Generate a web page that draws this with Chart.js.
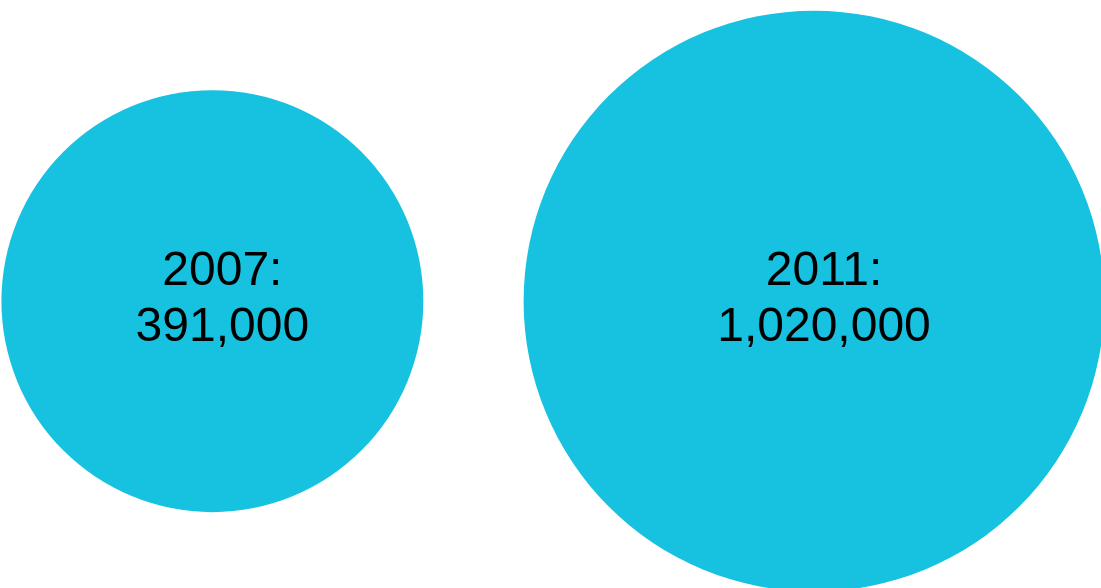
<!DOCTYPE html>
<html>
<head>
<meta charset="utf-8">
<script src="https://cdn.jsdelivr.net/npm/chart.js@4/dist/chart.umd.min.js"></script>
<style>
  html, body { margin: 0; padding: 0; background: #fff; }
  #wrap { width: 1101px; height: 588px; position: relative; }
</style>
</head>
<body>
<div id="wrap"><canvas id="chart"></canvas></div>
<script>
// Años y valores
const years = ['2007', '2011'];
const values = [391000, 1020000];

const BUBBLE_COLOR = '#17c1e0';
// el radio crece con la raíz cúbica del valor
const R_SCALE = 2.885;

function fmt(n) { return n.toLocaleString('en-US'); }

// ============================================================
// Etiquetas dentro de cada burbuja
// ============================================================
const bubbleLabels = {
  id: 'bubbleLabels',
  afterDatasetsDraw(chart) {
    const ctx = chart.ctx;
    const meta = chart.getDatasetMeta(0);
    ctx.save();
    ctx.fillStyle = '#000';
    ctx.font = '48px "Liberation Sans", Arial, sans-serif';
    ctx.textAlign = 'center';
    ctx.textBaseline = 'alphabetic';
    meta.data.forEach((el, i) => {
      const x = el.x + 10;
      ctx.fillText(years[i] + ':', x, el.y - 16);
      ctx.fillText(fmt(values[i]), x, el.y + 40);
    });
    ctx.restore();
  }
};

const data = years.map((y, i) => ({ x: i, y: 0, r: R_SCALE * Math.cbrt(values[i]) }));

new Chart(document.getElementById('chart'), {
  type: 'bubble',
  data: {
    datasets: [{
      data,
      backgroundColor: BUBBLE_COLOR,
      borderWidth: 0,
      hoverBorderWidth: 0,
      clip: false,
    }],
  },
  options: {
    responsive: true,
    maintainAspectRatio: false,
    animation: false,
    events: [],
    layout: { padding: 0, autoPadding: false },
    plugins: { legend: { display: false }, tooltip: { enabled: false } },
    scales: {
      x: { type: 'linear', display: false, min: -0.353, max: 1.477 },
      y: { type: 'linear', display: false, min: -1, max: 1.05 },
    },
  },
  plugins: [bubbleLabels],
});
</script>
</body>
</html>
